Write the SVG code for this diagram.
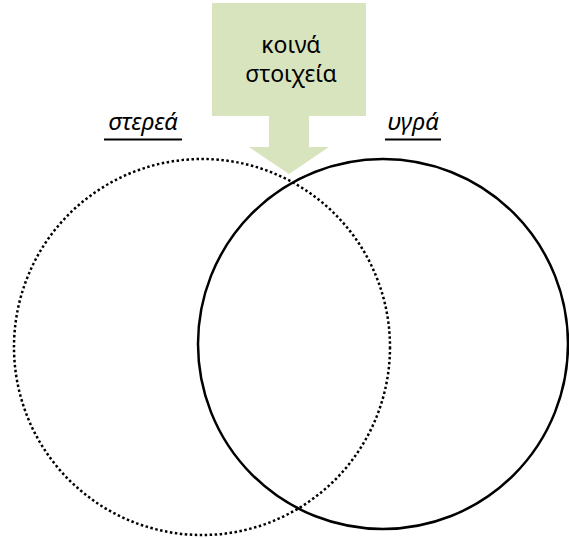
<svg xmlns="http://www.w3.org/2000/svg" width="569" height="538" viewBox="0 0 569 538">
<style>
text{font-family:"Noto Sans","Liberation Sans",sans-serif;fill:#000}
.lbl{font-size:24px;font-style:italic}
.c{font-size:23px}
.ul{stroke:#000;stroke-width:2}
</style>
<rect width="569" height="538" fill="#fff"/>
<g id="callout">
<path d="M212,3 H366 V116 H309 V147 H329 L289,174 L249,147 H269 V116 H212 Z" fill="#d7e4bd"/>
<text class="c" x="291" y="53" text-anchor="middle">κοινά</text>
<text class="c" x="291" y="82" text-anchor="middle">στοιχεία</text>
</g>
<g id="solids">
<circle cx="202" cy="347" r="188" fill="none" stroke="#000" stroke-width="2.5" stroke-dasharray="2.5 2.5"/>
<text class="lbl" x="143" y="130" text-anchor="middle">στερεά</text>
<line class="ul" x1="104" y1="139.5" x2="182" y2="139.5"/>
</g>
<g id="liquids">
<circle cx="383" cy="344" r="185" fill="none" stroke="#000" stroke-width="2.5"/>
<text class="lbl" x="413" y="130" text-anchor="middle">υγρά</text>
<line class="ul" x1="385" y1="139.5" x2="441" y2="139.5"/>
</g>
</svg>
